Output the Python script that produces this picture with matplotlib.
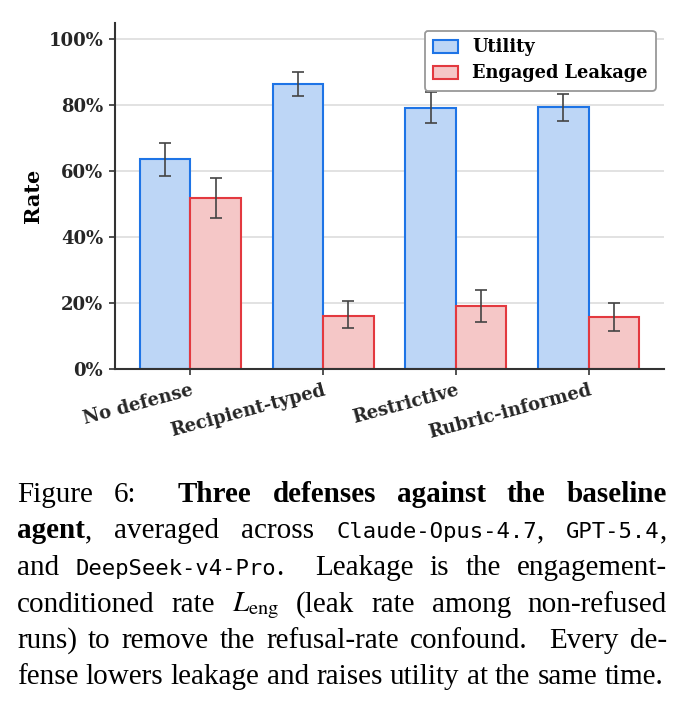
import matplotlib
matplotlib.use("Agg")
import matplotlib.pyplot as plt
import numpy as np

# ---------------- data ----------------
categories = ["No defense", "Recipient-typed", "Restrictive", "Rubric-informed"]
utility = [63.5, 86.5, 79.1, 79.3]
utility_lo = [58.5, 82.8, 74.4, 75.2]
utility_hi = [68.6, 89.9, 83.8, 83.4]
leakage = [51.9, 16.2, 19.1, 15.8]
leakage_lo = [45.7, 12.3, 14.3, 11.5]
leakage_hi = [58.0, 20.5, 23.9, 20.1]
yticks = [0, 20, 40, 60, 80, 100]
series_labels = ["Utility", "Engaged Leakage"]

# ---------------- style ----------------
W, H, DPI = 691, 705, 100
fig = plt.figure(figsize=(W / DPI, H / DPI), dpi=DPI)
ax = fig.add_axes([115 / W, 1 - 369 / H, (664 - 115) / W, (369 - 22.5) / H])

blue_face, blue_edge = "#BDD6F6", "#1E74E6"
red_face, red_edge = "#F5C7C7", "#E3393F"
ink = "#262626"
chart_font = "DejaVu Serif"

x = np.arange(len(categories))
bw = 0.38
ax.bar(x - bw / 2, utility, bw, facecolor=blue_face, edgecolor=blue_edge,
       linewidth=1.5, label=series_labels[0], zorder=2)
ax.bar(x + bw / 2, leakage, bw, facecolor=red_face, edgecolor=red_edge,
       linewidth=1.5, label=series_labels[1], zorder=2)

u = np.array(utility); l = np.array(leakage)
ax.errorbar(x - bw / 2, u, yerr=[u - np.array(utility_lo), np.array(utility_hi) - u],
            fmt="none", ecolor="#444444", elinewidth=1.2, capsize=4, capthick=1.2, zorder=3)
ax.errorbar(x + bw / 2, l, yerr=[l - np.array(leakage_lo), np.array(leakage_hi) - l],
            fmt="none", ecolor="#444444", elinewidth=1.2, capsize=4, capthick=1.2, zorder=3)

ax.set_ylim(0, 105)
ax.set_yticks(yticks)
ax.set_yticklabels([f"{v}%" for v in yticks], fontfamily=chart_font,
                   fontweight="bold", fontsize=13, color=ink)
ax.set_xticks(x)
ax.set_xticklabels(categories, rotation=15, ha="right", rotation_mode="anchor",
                   fontfamily=chart_font, fontweight="bold", fontsize=13, color=ink)
ax.tick_params(axis="both", length=4.5, width=1.2, color="#333333", pad=4)
ax.set_ylabel("Rate", fontfamily=chart_font, fontweight="bold", fontsize=15,
              color="black", labelpad=4)
ax.yaxis.grid(True, color="#dddddd", linewidth=1.2, zorder=0)
ax.set_axisbelow(True)
for s in ["top", "right"]:
    ax.spines[s].set_visible(False)
for s in ["left", "bottom"]:
    ax.spines[s].set_color("#333333")
    ax.spines[s].set_linewidth(1.5)

leg = ax.legend(loc="upper right", prop=dict(family=chart_font, weight="bold", size=12.8),
                frameon=True, fancybox=True, framealpha=1.0, edgecolor="#999999",
                borderaxespad=0.45, handlelength=1.45, handleheight=0.75,
                handletextpad=0.8, borderpad=0.45, labelspacing=0.45)
leg.get_frame().set_linewidth(1.3)
leg.set_zorder(5)

# ---------------- caption ----------------
plt.rcParams["mathtext.fontset"] = "stix"
serif = "Liberation Serif"
styles = {
    "r": dict(family=serif, size=21),
    "b": dict(family=serif, size=21, weight="bold"),
    "m": dict(family="DejaVu Sans Mono", size=16),
    "x": dict(family=serif, size=21),
}
caption = [
    [("Figure 6:", "r"), ("  ", "r"), ("Three defenses against the baseline", "b")],
    [("agent", "b"), (", averaged across ", "r"), ("Claude-Opus-4.7", "m"), (", ", "r"),
     ("GPT-5.4", "m"), (",", "r")],
    [("and ", "r"), ("DeepSeek-v4-Pro", "m"), (".  Leakage is the engagement-", "r")],
    [("conditioned rate ", "r"), (r"$L_{\mathrm{eng}}$", "x"), (" (leak rate among non-refused", "r")],
    [("runs) to remove the refusal-rate confound.  Every de-", "r")],
    [("fense lowers leakage and raises utility at the same time.", "r")],
]
x_left, x_right = 17, 667
baselines = [502, 538.5, 575, 611.5, 648, 684.5]

renderer = fig.canvas.get_renderer()


def measure(text, st):
    t = fig.text(0, 0, text, **styles[st])
    w = t.get_window_extent(renderer).width
    t.remove()
    return w


def tokenize(segs):
    words = [[]]
    weights = []
    for text, st in segs:
        parts = text.split(" ")
        for i, p in enumerate(parts):
            if i > 0:
                if words[-1]:
                    words.append([])
                    weights.append(1.0)
                else:
                    if weights:
                        weights[-1] += 1.0
            if p:
                words[-1].append((p, st))
    if not words[-1]:
        words.pop()
        weights.pop()
    return words, weights


space_w = measure("a a", "r") - measure("aa", "r")
for li, segs in enumerate(caption):
    words, weights = tokenize(segs)
    widths = [[measure(p, st) for p, st in w] for w in words]
    total = sum(sum(ws) for ws in widths)
    last = li == len(caption) - 1
    if last:
        unit = space_w
    else:
        unit = (x_right - x_left - total) / sum(weights)
    cx = x_left
    yb = 1 - baselines[li] / H
    for wi, (w, ws) in enumerate(zip(words, widths)):
        for (p, st), pw in zip(w, ws):
            fig.text(cx / W, yb, p, va="baseline", ha="left", color="black", **styles[st])
            cx += pw
        if wi < len(weights):
            cx += unit * weights[wi]

fig.savefig("out.png", dpi=DPI)
